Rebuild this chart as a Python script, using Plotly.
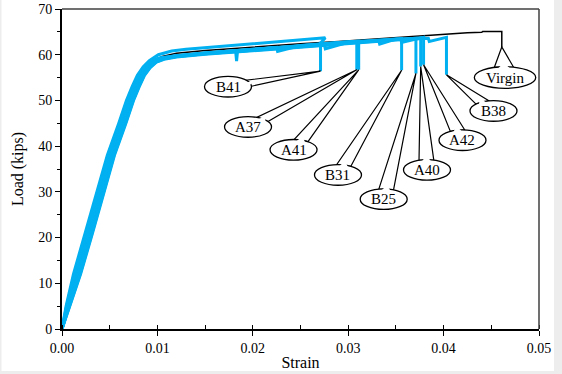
import math
import plotly.graph_objects as go

# ---------------- data (strain, load in kips) ----------------
B41_strain = [0, 0.00043, 0.0012, 0.00245, 0.00365, 0.00475, 0.00595, 0.00675, 0.00735, 0.00790, 0.00850, 0.00915,
              0.0101, 0.0115, 0.013, 0.016, 0.020, 0.024, 0.0262, 0.0276, 0.0274, 0.0271, 0.0271]
B41_load = [0, 5, 12, 21, 30, 38, 45, 50, 53, 55.5, 57.3, 58.7,
            60.0, 60.8, 61.2, 61.7, 62.3, 63.0, 63.4, 63.7, 63.2, 62.6, 56.4]

A37_strain = [0, 0.00068, 0.0017, 0.00295, 0.00415, 0.00525, 0.00645, 0.00725, 0.00785, 0.00840, 0.00900, 0.00965,
              0.0105, 0.012, 0.015, 0.0182, 0.0183, 0.0184, 0.020, 0.025, 0.029, 0.0309, 0.0309]
A37_load = [0, 5, 12, 21, 30, 38, 45, 50, 53, 55.5, 57.3, 58.5,
            59.2, 59.7, 60.3, 60.8, 58.6, 60.8, 61.1, 61.9, 62.6, 62.9, 56.7]

A41_strain = [0, 0.00054, 0.00143, 0.00268, 0.00388, 0.00498, 0.00618, 0.00698, 0.00758, 0.00813, 0.00873, 0.00938,
              0.0104, 0.012, 0.015, 0.020, 0.0225, 0.0226, 0.025, 0.029, 0.0311, 0.0311]
A41_load = [0, 5, 12, 21, 30, 38, 45, 50, 53, 55.5, 57.3, 58.6,
            59.3, 59.8, 60.4, 61.2, 61.6, 60.7, 62.0, 62.7, 63.0, 56.7]

B31_strain = [0, 0.00077, 0.0019, 0.00315, 0.00435, 0.00545, 0.00665, 0.00745, 0.00805, 0.00860, 0.00920, 0.00985,
              0.0107, 0.012, 0.015, 0.020, 0.025, 0.0275, 0.0276, 0.030, 0.033, 0.0356, 0.0356]
B31_load = [0, 5, 12, 21, 30, 38, 45, 50, 53, 55.5, 57.2, 58.4,
            59.1, 59.6, 60.2, 61.0, 61.8, 62.2, 61.3, 62.7, 63.1, 63.5, 56.6]

B25_strain = [0, 0.0006, 0.00155, 0.0028, 0.0040, 0.0051, 0.0063, 0.0071, 0.0077, 0.00825, 0.00885, 0.0095,
              0.0104, 0.012, 0.015, 0.020, 0.025, 0.030, 0.0332, 0.0333, 0.035, 0.0371, 0.0371]
B25_load = [0, 5, 12, 21, 30, 38, 45, 50, 53, 55.5, 57.3, 58.5,
            59.2, 59.7, 60.3, 61.1, 61.9, 62.7, 63.1, 62.3, 63.4, 63.6, 55.9]

A40_strain = [0, 0.00072, 0.0018, 0.00305, 0.00425, 0.00535, 0.00655, 0.00735, 0.00795, 0.00850, 0.00910, 0.00975,
              0.0106, 0.012, 0.015, 0.020, 0.025, 0.030, 0.035, 0.0376, 0.0376]
A40_load = [0, 5, 12, 21, 30, 38, 45, 50, 53, 55.5, 57.2, 58.4,
            59.1, 59.6, 60.2, 61.0, 61.8, 62.6, 63.3, 63.7, 57.4]

A42_strain = [0, 0.00048, 0.0013, 0.00255, 0.00375, 0.00485, 0.00605, 0.00685, 0.00745, 0.00800, 0.00860, 0.00925,
              0.0102, 0.012, 0.015, 0.020, 0.025, 0.030, 0.0355, 0.0356, 0.0379, 0.0379]
A42_load = [0, 5, 12, 21, 30, 38, 45, 50, 53, 55.5, 57.3, 58.6,
            59.3, 59.8, 60.4, 61.2, 62.0, 62.8, 63.5, 62.7, 63.8, 57.8]

B38_strain = [0, 0.0008, 0.00195, 0.0032, 0.0044, 0.0055, 0.0067, 0.0075, 0.0081, 0.00865, 0.00925, 0.0099,
              0.0107, 0.012, 0.015, 0.020, 0.025, 0.030, 0.035, 0.0384, 0.0385, 0.0403, 0.0403]
B38_load = [0, 5, 12, 21, 30, 38, 45, 50, 53, 55.5, 57.2, 58.4,
            59.0, 59.5, 60.1, 60.9, 61.7, 62.5, 63.2, 63.6, 62.9, 63.8, 55.6]

Virgin_strain = [0, 0.0006, 0.00155, 0.0028, 0.0040, 0.0051, 0.0063, 0.0071, 0.0077, 0.00825, 0.00885, 0.0095,
                 0.0105, 0.012, 0.015, 0.020, 0.025, 0.029, 0.033, 0.037, 0.040, 0.0425, 0.0440, 0.0441,
                 0.0461, 0.0461]
Virgin_load = [0, 5, 12, 21, 30, 38, 45, 50, 53, 55.5, 57.3, 58.6,
               59.6, 60.3, 60.9, 61.7, 62.4, 62.9, 63.5, 64.0, 64.4, 64.8, 64.9, 65.1,
               65.1, 61.7]

specimens = [
    ("B41", B41_strain, B41_load),
    ("A37", A37_strain, A37_load),
    ("A41", A41_strain, A41_load),
    ("B31", B31_strain, B31_load),
    ("B25", B25_strain, B25_load),
    ("A40", A40_strain, A40_load),
    ("A42", A42_strain, A42_load),
    ("B38", B38_strain, B38_load),
]

# callout label positions (data coordinates of oval centres)
callout_names = ["B41", "A37", "A41", "B31", "B25", "A40", "A42", "B38", "Virgin"]
callout_x = [0.0174, 0.0195, 0.02427, 0.02893, 0.03372, 0.03826, 0.04198, 0.04523, 0.04644]
callout_y = [53.0, 44.2, 39.2, 33.7, 28.4, 34.8, 41.3, 47.7, 55.0]

# ---------------- layout geometry ----------------
W, H = 562, 374
ML, MR, MT, MB = 62, 23, 9, 45
PW, PH = W - ML - MR, H - MT - MB
XR, YR = (0, 0.05), (0, 70)
SX = PW / (XR[1] - XR[0])   # px per strain
SY = PH / (YR[1] - YR[0])   # px per kip

CYAN = "#00B0F0"
FONT = "Liberation Serif"

fig = go.Figure()
fig.add_trace(go.Scatter(x=Virgin_strain, y=Virgin_load, mode="lines", name="Virgin",
                         line=dict(color="black", width=1.5), showlegend=False))
for name, sx, sy in specimens:
    fig.add_trace(go.Scatter(x=sx, y=sy, mode="lines", name=name,
                             line=dict(color=CYAN, width=3), showlegend=False))

tips = {name: (sx[-1], sy[-1]) for name, sx, sy in specimens}
tips["Virgin"] = (Virgin_strain[-1], Virgin_load[-1])

shapes = []
annotations = []
for name, cx, cy in zip(callout_names, callout_x, callout_y):
    rx = 30.7 if name == "Virgin" else 23.5
    ry = 10.8 if name == "Virgin" else 10.3
    tx, ty = tips[name]
    dxp = (tx - cx) * SX
    dyp = (ty - cy) * SY
    phi = math.atan2(dyp / ry, dxp / rx)
    d = 0.32
    b1 = (cx + rx * math.cos(phi - d) / SX, cy + ry * math.sin(phi - d) / SY)
    b2 = (cx + rx * math.cos(phi + d) / SX, cy + ry * math.sin(phi + d) / SY)
    shapes.append(dict(type="path", xref="x", yref="y", layer="above",
                       path=f"M {b1[0]},{b1[1]} L {tx},{ty} L {b2[0]},{b2[1]} Z",
                       fillcolor="white", line=dict(color="black", width=1.2)))
    shapes.append(dict(type="circle", xref="x", yref="y", layer="above",
                       x0=cx - rx / SX, x1=cx + rx / SX, y0=cy - ry / SY, y1=cy + ry / SY,
                       fillcolor="white", line=dict(color="black", width=1.3)))
    # open the oval outline where the pointer joins
    d2 = 0.26
    i1 = (cx + (rx - 2.5) * math.cos(phi - d2) / SX, cy + (ry - 2.5) * math.sin(phi - d2) / SY)
    i2 = (cx + (rx - 2.5) * math.cos(phi + d2) / SX, cy + (ry - 2.5) * math.sin(phi + d2) / SY)
    m = (cx + (rx + 4) * math.cos(phi) / SX, cy + (ry + 4) * math.sin(phi) / SY)
    shapes.append(dict(type="path", xref="x", yref="y", layer="above",
                       path=f"M {i1[0]},{i1[1]} L {m[0]},{m[1]} L {i2[0]},{i2[1]} Z",
                       fillcolor="white", line=dict(width=0)))
    annotations.append(dict(x=cx, y=cy, xref="x", yref="y", text=name, showarrow=False,
                            font=dict(family=FONT, size=15, color="black")))

# top and right frame lines
shapes.append(dict(type="line", xref="paper", yref="paper", x0=0, x1=1, y0=1, y1=1,
                   line=dict(color="#404040", width=1.5), layer="above"))
shapes.append(dict(type="line", xref="paper", yref="paper", x0=1, x1=1, y0=0, y1=1,
                   line=dict(color="#404040", width=1.5), layer="above"))

# light grey window frame at the edges (page pixel coords)
def px2paper_x(p):
    return (p - ML) / PW
def px2paper_y(p):
    return (H - MB - p) / PH
GREY = "#ededed"
shapes.append(dict(type="rect", xref="paper", yref="paper", layer="above",
                   x0=px2paper_x(554), x1=px2paper_x(566), y0=px2paper_y(380), y1=px2paper_y(-5),
                   fillcolor=GREY, line=dict(width=0)))
shapes.append(dict(type="rect", xref="paper", yref="paper", layer="above",
                   x0=px2paper_x(-5), x1=px2paper_x(566), y0=px2paper_y(380), y1=px2paper_y(371),
                   fillcolor=GREY, line=dict(width=0)))
shapes.append(dict(type="rect", xref="paper", yref="paper", layer="above",
                   x0=px2paper_x(-5), x1=px2paper_x(1.5), y0=px2paper_y(380), y1=px2paper_y(-5),
                   fillcolor=GREY, line=dict(width=0)))

tickfont = dict(family=FONT, size=14, color="black")
fig.update_layout(
    width=W, height=H,
    font=dict(family=FONT, size=14, color="black"),
    margin=dict(l=ML, r=MR, t=MT, b=MB, autoexpand=False),
    paper_bgcolor="white", plot_bgcolor="white",
    shapes=shapes, annotations=annotations,
    xaxis=dict(range=list(XR), dtick=0.01, tick0=0, tickformat=".2f",
               showgrid=False, zeroline=False,
               showline=True, linecolor="black", linewidth=2,
               ticks="outside", ticklen=5, tickwidth=1, tickcolor="black",
               minor=dict(dtick=0.005, tick0=0, ticks="inside", ticklen=4, tickwidth=1, tickcolor="black"),
               tickfont=tickfont, ticklabeloverflow="allow",
               title=dict(text="Strain", font=dict(family=FONT, size=16, color="black"), standoff=2)),
    yaxis=dict(range=list(YR), dtick=10, tick0=0,
               showgrid=False, zeroline=False,
               showline=True, linecolor="black", linewidth=2,
               ticks="outside", ticklen=5, tickwidth=1, tickcolor="black",
               minor=dict(dtick=5, tick0=0, ticks="outside", ticklen=3, tickwidth=1, tickcolor="black"),
               tickfont=tickfont, ticklabeloverflow="allow",
               title=dict(text="Load (kips)", font=dict(family=FONT, size=16, color="black"), standoff=11)),
)

fig.write_html("out.html",
               config={"displayModeBar": False, "staticPlot": True},
               post_script="document.body.style.margin='0';document.body.style.padding='0';")
